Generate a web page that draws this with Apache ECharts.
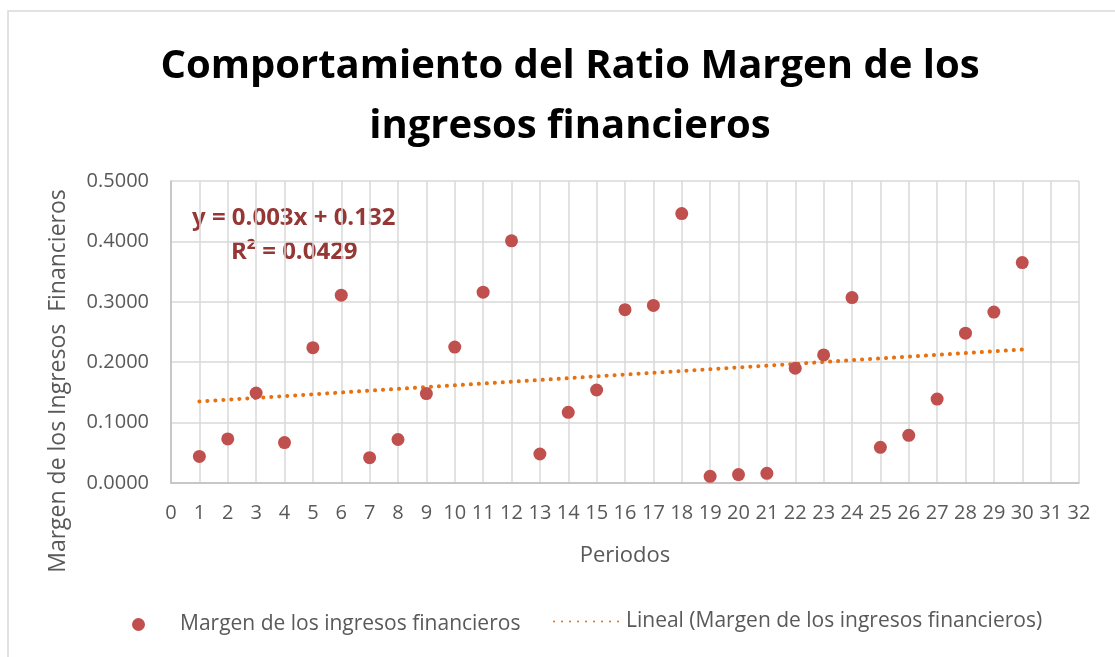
<!DOCTYPE html>
<html>
<head>
<meta charset="utf-8">
<script src="https://cdn.jsdelivr.net/npm/echarts@6/dist/echarts.min.js"></script>
<style>
  html, body { margin: 0; padding: 0; background: #fff; }
  #main { width: 1115px; height: 657px; }
</style>
</head>
<body>
<div id="main"></div>
<script>
const periodos = [1, 2, 3, 4, 5, 6, 7, 8, 9, 10, 11, 12, 13, 14, 15, 16, 17, 18, 19, 20, 21, 22, 23, 24, 25, 26, 27, 28, 29, 30];
const margen = [0.044, 0.073, 0.149, 0.067, 0.224, 0.311, 0.042, 0.072, 0.148, 0.225, 0.316, 0.401, 0.048, 0.117, 0.154, 0.287,
    0.294, 0.446, 0.011, 0.014, 0.016, 0.190, 0.212, 0.307, 0.059, 0.079, 0.139, 0.248, 0.283, 0.365];
const xTicks = { min: 0, max: 32, step: 1 };
const yTicks = { min: 0, max: 0.5, step: 0.1 };
const ecuacion = ["y = 0.003x + 0.132", "R² = 0.0429"];
const serieNombre = "Margen de los ingresos financieros";
const tendNombre = "Lineal (Margen de los ingresos financieros)";

// linear trendline (least squares) from the data
const n = periodos.length;
const mx = periodos.reduce((a, b) => a + b, 0) / n;
const my = margen.reduce((a, b) => a + b, 0) / n;
let sxy = 0, sxx = 0;
periodos.forEach((x, i) => { sxy += (x - mx) * (margen[i] - my); sxx += (x - mx) * (x - mx); });
const pendiente = sxy / sxx;
const corte = my - pendiente * mx;
const xFirst = periodos[0], xLast = periodos[n - 1];
const tendencia = [[xFirst, corte + pendiente * xFirst], [xLast, corte + pendiente * xLast]];

const font = "'Open Sans', sans-serif";
const gris = "#595959";
const chart = echarts.init(document.getElementById("main"));

chart.setOption({
    animation: false,
    title: {
        text: "Comportamiento del Ratio Margen de los\ningresos financieros",
        left: 565, top: 32, textAlign: "center",
        textStyle: { fontFamily: font, fontSize: 40, fontWeight: "bold", color: "#000", lineHeight: 60 }
    },
    grid: { left: 171, right: 36, top: 181, bottom: 174 },
    legend: [
        {
            left: 127, top: 609, itemWidth: 13, itemHeight: 13,
            textStyle: { fontFamily: font, fontSize: 21, color: gris, padding: [0, 0, 0, 30] },
            data: [{ name: serieNombre, icon: "circle" }]
        },
        {
            left: 548, top: 606, itemWidth: 67, itemHeight: 18,
            textStyle: { fontFamily: font, fontSize: 21, color: gris },
            data: [{ name: tendNombre, itemStyle: { opacity: 0 } }]
        }
    ],
    xAxis: {
        type: "value", min: xTicks.min, max: xTicks.max, interval: xTicks.step,
        name: "Periodos", nameLocation: "middle", nameGap: 62,
        nameTextStyle: { fontFamily: font, fontSize: 22, color: gris },
        axisLine: { lineStyle: { color: "#BFBFBF", width: 1.5 } },
        axisTick: { show: false },
        axisLabel: { fontFamily: font, fontSize: 20, color: gris, margin: 20 },
        splitLine: { show: true, lineStyle: { color: "#D9D9D9", width: 1.5 } }
    },
    yAxis: {
        type: "value", min: yTicks.min, max: yTicks.max, interval: yTicks.step,
        axisLine: { show: true, lineStyle: { color: "#BFBFBF", width: 1.5 } },
        axisTick: { show: false },
        axisLabel: { fontFamily: font, fontSize: 20, color: gris, margin: 22, formatter: v => v.toFixed(4) },
        splitLine: { show: true, lineStyle: { color: "#D9D9D9", width: 1.5 } }
    },
    graphic: [
        { type: "rect", shape: { x: 8, y: 11, width: 1200, height: 700 }, style: { fill: "none", stroke: "#D9D9D9", lineWidth: 1.5 }, silent: true },
        {
            type: "text", x: 58, y: 381, rotation: Math.PI / 2,
            style: { text: "Margen de los Ingresos  Financieros", fontFamily: font, fontSize: 23, fill: gris, align: "center", verticalAlign: "middle" }
        },
        {
            type: "text", x: 192, y: 218,
            style: { text: ecuacion[0], fontFamily: font, fontSize: 24, fontWeight: "bold", fill: "#953735", align: "left", verticalAlign: "middle" }
        },
        {
            type: "text", x: 231, y: 252,
            style: { text: ecuacion[1], fontFamily: font, fontSize: 24, fontWeight: "bold", fill: "#953735", align: "left", verticalAlign: "middle" }
        }
    ],
    series: [
        {
            name: serieNombre,
            type: "scatter", symbolSize: 13,
            itemStyle: { color: "#C0504D", opacity: 1 },
            data: periodos.map((x, i) => [x, margen[i]]),
            z: 3
        },
        {
            name: tendNombre,
            type: "line", symbol: "none",
            lineStyle: { color: "#E8710F", width: 4, type: [0.1, 7.9], cap: "round" },
            itemStyle: { color: "#E8710F" },
            data: tendencia,
            z: 2
        }
    ]
});
</script>
</body>
</html>
